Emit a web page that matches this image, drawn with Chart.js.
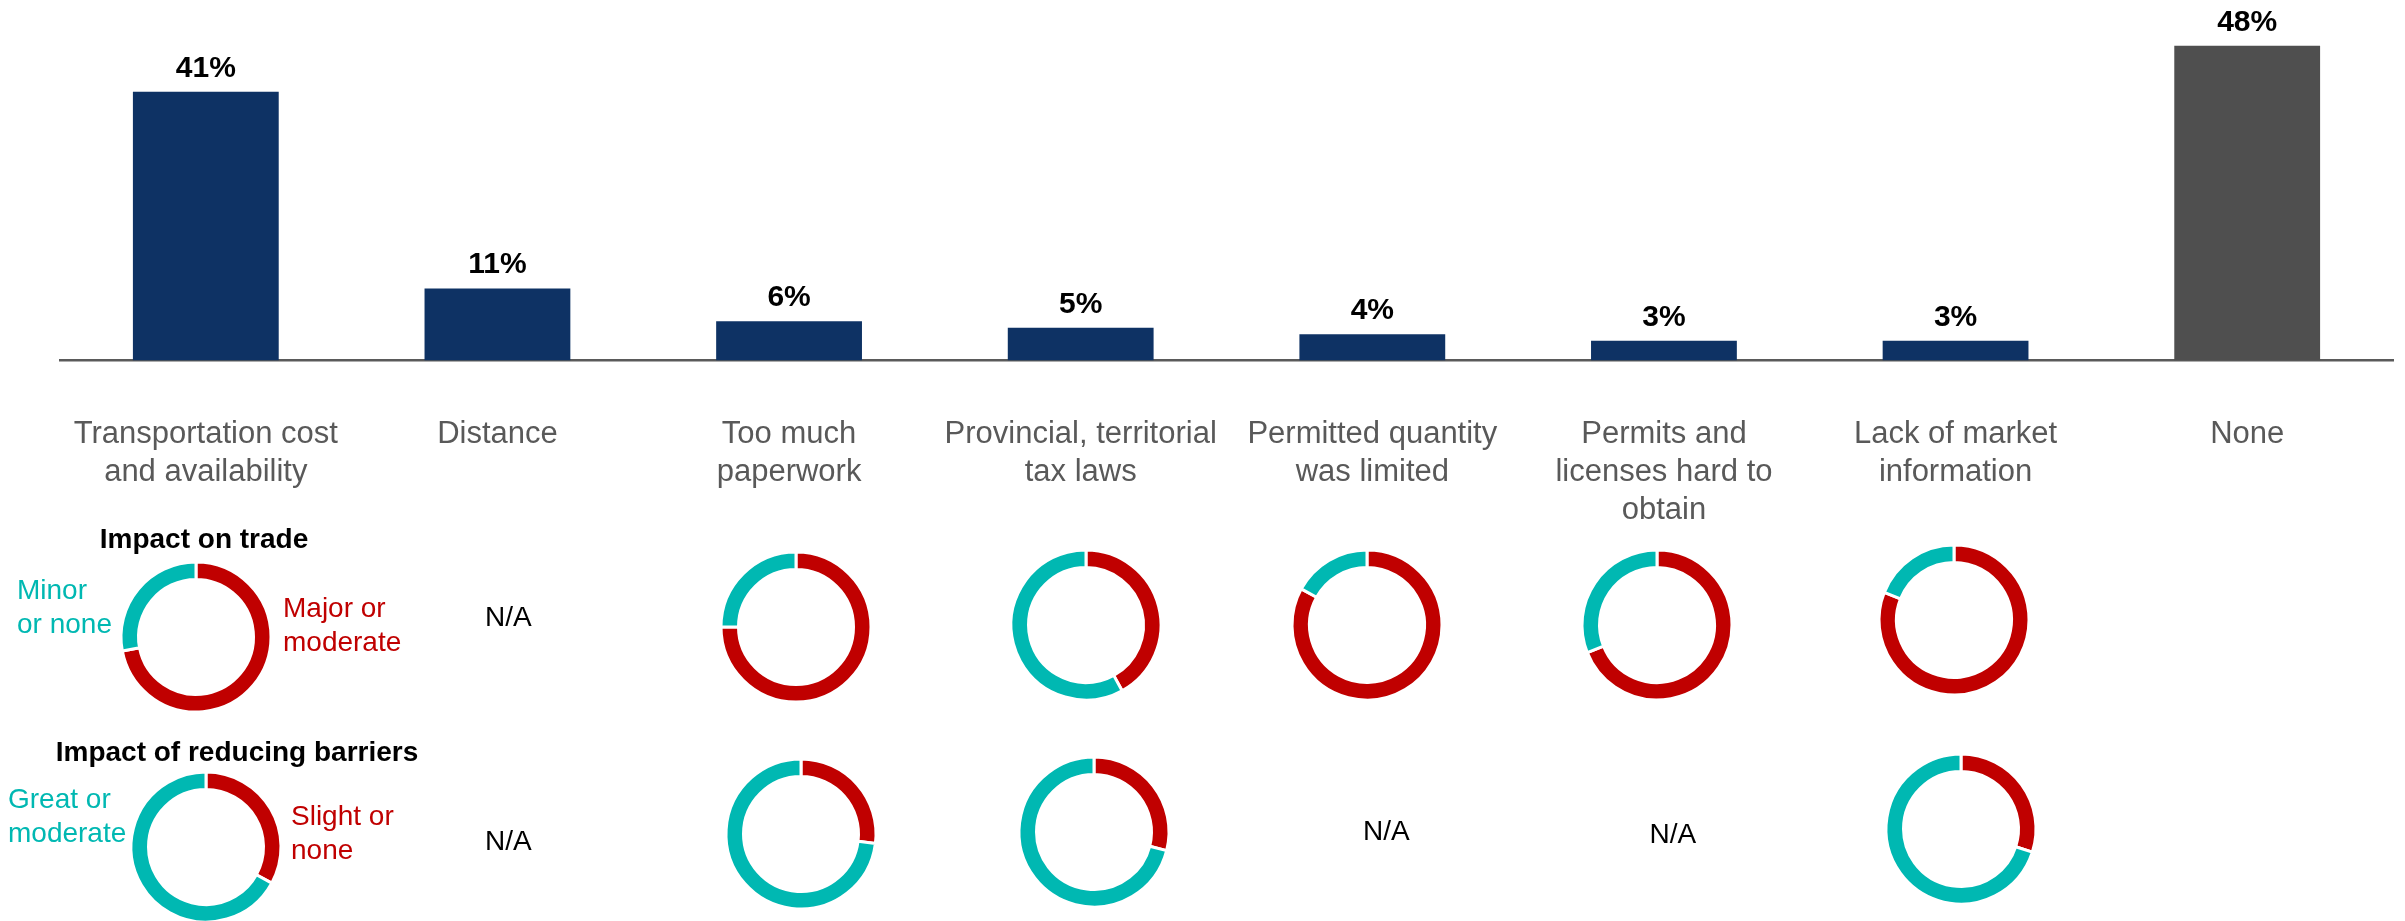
<!DOCTYPE html>
<html>
<head>
<meta charset="utf-8">
<script src="https://cdn.jsdelivr.net/npm/chart.js@4.4.1/dist/chart.umd.min.js"></script>
<style>
  html, body { margin: 0; padding: 0; background: #ffffff; overflow: hidden; }
  #wrap { position: relative; width: 2405px; height: 921px; }
  #bars { position: absolute; left: 0; top: 0; }
  .ring { position: absolute; }
</style>
</head>
<body>
<div id="wrap">
  <canvas id="bars" width="2405" height="921"></canvas>
</div>
<script>
// Barriers to trade: share of respondents naming each barrier
const categories = [
  ['Transportation cost', 'and availability'],
  ['Distance'],
  ['Too much', 'paperwork'],
  ['Provincial, territorial', 'tax laws'],
  ['Permitted quantity', 'was limited'],
  ['Permits and', 'licenses hard to', 'obtain'],
  ['Lack of market', 'information'],
  ['None']
];
const shares = [41, 11, 6, 5, 4, 3, 3, 48];

// Impact on trade (null = not asked)
const tradeMajor = [72, null, 75, 42, 83, 69, 81, null];
const tradeMinor = [28, null, 25, 58, 17, 31, 19, null];

// Impact of reducing barriers (null = not asked)
const reduceSlight = [33, null, 27, 29, null, null, 30, null];
const reduceGreat  = [67, null, 73, 71, null, null, 70, null];

const FONT = "'Liberation Sans', Arial, Helvetica, sans-serif";
const NAVY = '#0E3264';
const GREY_BAR = '#4F4F4F';
const RED = '#C00000';
const TEAL = '#00B8B2';
const barColors = shares.map((v, i) => i === shares.length - 1 ? GREY_BAR : NAVY);

// Layout of the ring rows: centre y and small horizontal nudges per column
const rings = {
  trade:  { y: [637, 0, 627, 625, 625, 625, 620, 0], dx: [-10, 11, 7, 5, -5, -7, -2, 0], naY: 626 },
  reduce: { y: [847, 0, 834, 832, 0, 0, 829, 0],     dx: [0, 11, 12, 13, 14, 9, 5, 0],    naY: [850, 850, 0, 0, 840, 843, 0, 0] }
};
const RING_R = 75;          // outer radius incl. the white separator stroke
const RING_CUT = 57.5;      // inner radius

// Texts that annotate the ring rows
const rowTitles = [
  { text: 'Impact on trade', x: 204, y: 548 },
  { text: 'Impact of reducing barriers', x: 237, y: 761 }
];
const keyNotes = [
  { lines: ['Minor', 'or none'],    color: TEAL, x: 17,  y: 599, gap: 33.5 },
  { lines: ['Major or', 'moderate'], color: RED, x: 283, y: 617, gap: 33.5 },
  { lines: ['Great or', 'moderate'], color: TEAL, x: 8,  y: 808, gap: 34 },
  { lines: ['Slight or', 'none'],    color: RED,  x: 291, y: 825, gap: 34 }
];

const annotate = {
  id: 'annotate',
  afterDatasetsDraw(chart) {
    const ctx = chart.ctx;
    const meta = chart.getDatasetMeta(0);
    const xs = chart.scales.x;
    ctx.save();
    // value labels above bars
    ctx.font = 'bold 30px ' + FONT;
    ctx.fillStyle = '#000000';
    ctx.textAlign = 'center';
    ctx.textBaseline = 'alphabetic';
    meta.data.forEach((bar, i) => {
      ctx.fillText(shares[i] + '%', bar.x, bar.y - 15);
    });
    // row titles
    ctx.font = 'bold 28px ' + FONT;
    rowTitles.forEach(t => ctx.fillText(t.text, t.x, t.y));
    // ring keys
    ctx.font = '28px ' + FONT;
    ctx.textAlign = 'left';
    keyNotes.forEach(k => {
      ctx.fillStyle = k.color;
      k.lines.forEach((ln, j) => ctx.fillText(ln, k.x, k.y + j * k.gap));
    });
    // N/A where a ring is missing
    ctx.fillStyle = '#000000';
    ctx.textAlign = 'center';
    for (let i = 0; i < categories.length - 1; i++) {
      const cx = xs.getPixelForValue(i);
      if (tradeMajor[i] === null) ctx.fillText('N/A', cx + rings.trade.dx[i], rings.trade.naY);
      if (reduceSlight[i] === null) ctx.fillText('N/A', cx + rings.reduce.dx[i], rings.reduce.naY[i]);
    }
    ctx.restore();
  }
};

const barChart = new Chart(document.getElementById('bars'), {
  type: 'bar',
  data: {
    labels: categories,
    datasets: [{
      data: shares,
      backgroundColor: barColors,
      borderWidth: 0,
      barPercentage: 0.5,
      categoryPercentage: 1.0
    }]
  },
  options: {
    responsive: false,
    animation: false,
    layout: { padding: { left: 60, right: 12, top: 32.7, bottom: 0 } },
    plugins: { legend: { display: false }, tooltip: { enabled: false } },
    scales: {
      y: { display: false, min: 0, max: 50 },
      x: {
        grid: { display: false, drawTicks: false },
        border: { display: true, color: '#5A5A5A', width: 2.5 },
        ticks: {
          color: '#595959',
          font: { family: FONT, size: 31, lineHeight: 1.23 },
          padding: 55,
          maxRotation: 0,
          autoSkip: false
        },
        afterFit(scale) { scale.height = 921 - 360.5; }
      }
    }
  },
  plugins: [annotate]
});

// One doughnut per answered question, placed under its category
function addRing(cx, cy, red, teal) {
  const size = 170;
  const c = document.createElement('canvas');
  c.className = 'ring';
  c.width = size; c.height = size;
  c.style.left = (cx - size / 2) + 'px';
  c.style.top = (cy - size / 2) + 'px';
  document.getElementById('wrap').appendChild(c);
  new Chart(c, {
    type: 'doughnut',
    data: {
      labels: ['red', 'teal'],
      datasets: [{
        data: [red, teal],
        backgroundColor: [RED, TEAL],
        borderColor: '#ffffff',
        borderWidth: 3
      }]
    },
    options: {
      responsive: false,
      animation: false,
      radius: RING_R,
      cutout: (RING_CUT / RING_R * 100) + '%',
      rotation: 0,
      layout: { padding: 0 },
      plugins: { legend: { display: false }, tooltip: { enabled: false } }
    }
  });
}

const xScale = barChart.scales.x;
for (let i = 0; i < categories.length; i++) {
  const cx = xScale.getPixelForValue(i);
  if (tradeMajor[i] !== null) addRing(cx + rings.trade.dx[i], rings.trade.y[i], tradeMajor[i], tradeMinor[i]);
  if (reduceSlight[i] !== null) addRing(cx + rings.reduce.dx[i], rings.reduce.y[i], reduceSlight[i], reduceGreat[i]);
}
</script>
</body>
</html>
